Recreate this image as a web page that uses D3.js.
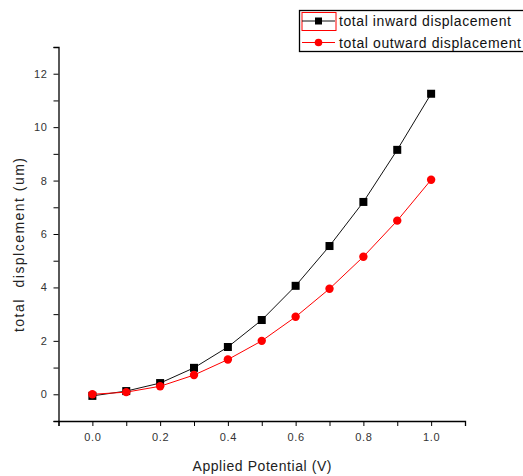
<!DOCTYPE html>
<html>
<head>
<meta charset="utf-8">
<script src="https://cdn.jsdelivr.net/npm/d3@7"></script>
<style>
  body { margin: 0; background: #fff; }
  svg { display: block; font-family: "Liberation Sans", Arial, sans-serif; }
</style>
</head>
<body>
<svg id="chart" width="523" height="476"></svg>
<script>
// valeurs
const potential = [0.0, 0.1, 0.2, 0.3, 0.4, 0.5, 0.6, 0.7, 0.8, 0.9, 1.0];
const inward = [-0.06, 0.12, 0.42, 0.99, 1.77, 2.78, 4.06, 5.55, 7.2, 9.15, 11.25];
const outward = [0.0, 0.08, 0.3, 0.72, 1.3, 2.0, 2.9, 3.95, 5.15, 6.5, 8.03];
const xTicks = [0.0, 0.2, 0.4, 0.6, 0.8, 1.0];
const yTicks = [0, 2, 4, 6, 8, 10, 12];
const seriesNames = ["total inward displacement", "total outward displacement"];

const svg = d3.select("#chart");

const x = d3.scaleLinear().domain([-0.1, 1.1]).range([58.5, 465]);
const y = d3.scaleLinear().domain([-1, 13]).range([421, 47]);

// axes
const xAxis = svg.append("g")
    .attr("transform", `translate(0,${y(-1)})`)
    .call(d3.axisBottom(x).tickValues(xTicks).tickFormat(d3.format(".1f")).tickSizeOuter(0).tickSize(5));

xAxis.append("g").selectAll("line")
  .data(d3.range(-1, 12, 2).map(d => d / 10))
  .join("line")
    .attr("x1", d => x(d) + 0.5).attr("x2", d => x(d) + 0.5)
    .attr("y1", 0).attr("y2", 5)
    .attr("stroke", "#000");

const yAxis = svg.append("g")
    .attr("transform", `translate(${x(-0.1)},0)`)
    .call(d3.axisLeft(y).tickValues(yTicks).tickSizeOuter(0).tickSize(5));

yAxis.append("g").selectAll("line")
  .data(d3.range(-1, 14, 2))
  .join("line")
    .attr("y1", d => y(d) + 0.5).attr("y2", d => y(d) + 0.5)
    .attr("x1", 0).attr("x2", -5)
    .attr("stroke", "#000");

svg.selectAll(".domain").attr("stroke", "#000").attr("stroke-width", 1.3);
svg.selectAll(".tick text").attr("font-size", 11).attr("fill", "#333")
  .attr("font-family", "Liberation Sans, Arial, sans-serif")
  .attr("letter-spacing", 0.6);
xAxis.selectAll(".tick text").attr("dy", "1.1em");
yAxis.selectAll(".tick text").attr("x", -11);

// titres des axes
svg.append("text")
    .attr("x", 262).attr("y", 471)
    .attr("text-anchor", "middle")
    .attr("font-size", 14).attr("fill", "#222")
    .attr("textLength", 139).attr("lengthAdjust", "spacing")
    .text("Applied Potential (V)");

svg.append("text")
    .attr("transform", "translate(24,245) rotate(-90)")
    .attr("text-anchor", "middle")
    .attr("font-size", 14).attr("fill", "#222")
    .attr("xml:space", "preserve")
    .attr("textLength", 174).attr("lengthAdjust", "spacing")
    .text("total  displcement (um)");

// séries
const line = d3.line().x((d, i) => x(potential[i])).y(d => y(d));

svg.append("path").datum(inward)
    .attr("fill", "none").attr("stroke", "#111").attr("stroke-width", 1)
    .attr("d", line);
svg.append("path").datum(outward)
    .attr("fill", "none").attr("stroke", "#ff0000").attr("stroke-width", 1)
    .attr("d", line);

const sq = 8;
svg.append("g").selectAll("rect")
  .data(inward)
  .join("rect")
    .attr("x", (d, i) => x(potential[i]) - sq / 2)
    .attr("y", d => y(d) - sq / 2)
    .attr("width", sq).attr("height", sq)
    .attr("fill", "#000");

svg.append("g").selectAll("circle")
  .data(outward)
  .join("circle")
    .attr("cx", (d, i) => x(potential[i]))
    .attr("cy", d => y(d))
    .attr("r", 4.2)
    .attr("fill", "#ff0000");

// légende
const legend = svg.append("g");
legend.append("rect")
    .attr("x", 299.5).attr("y", 10.5)
    .attr("width", 240).attr("height", 41)
    .attr("fill", "#fff").attr("stroke", "#000").attr("stroke-width", 1.3);
legend.append("rect")
    .attr("x", 302).attr("y", 12.5)
    .attr("width", 34).attr("height", 18)
    .attr("fill", "none").attr("stroke", "#ff0000").attr("stroke-width", 1);

const legendColors = ["#111", "#ff0000"];
const legendWidths = [172, 182];
seriesNames.forEach((name, i) => {
  const ly = 21 + i * 21.5;
  legend.append("line")
      .attr("x1", 302).attr("x2", 335)
      .attr("y1", ly).attr("y2", ly)
      .attr("stroke", legendColors[i]);
  if (i === 0) {
    legend.append("rect")
        .attr("x", 318.5 - 3.5).attr("y", ly - 3.5)
        .attr("width", 7).attr("height", 7).attr("fill", "#000");
  } else {
    legend.append("circle")
        .attr("cx", 318.5).attr("cy", ly).attr("r", 3.8).attr("fill", "#ff0000");
  }
  legend.append("text")
      .attr("x", 339).attr("y", ly + 5)
      .attr("font-size", 14).attr("fill", "#111")
      .attr("textLength", legendWidths[i]).attr("lengthAdjust", "spacing")
      .text(name);
});
</script>
</body>
</html>
